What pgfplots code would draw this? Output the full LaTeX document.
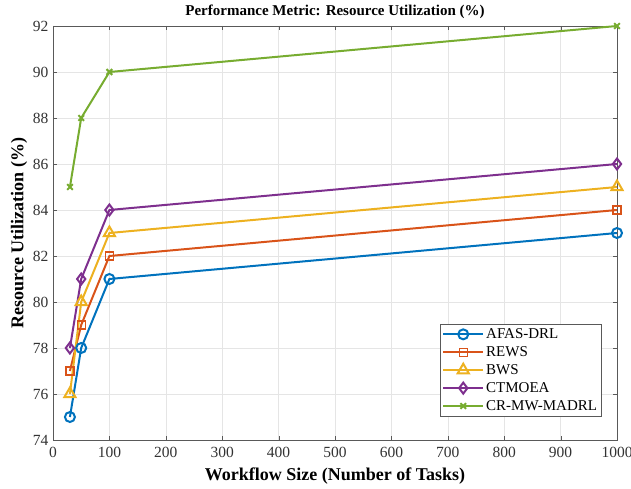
\documentclass[border=0pt]{standalone}
\usepackage{pgfplots}
\pgfplotsset{compat=1.18}
\usepackage{fontspec}
\setmainfont{Liberation Serif}
\definecolor{c1}{rgb}{0,0.447,0.741}
\definecolor{c2}{rgb}{0.85,0.325,0.098}
\definecolor{c3}{rgb}{0.929,0.694,0.125}
\definecolor{c4}{rgb}{0.494,0.184,0.556}
\definecolor{c5}{rgb}{0.466,0.674,0.188}
\begin{document}
\begin{tikzpicture}
\useasboundingbox (-53pt,-49pt) rectangle (578pt,440pt);
\begin{axis}[
  at={(0,0)}, anchor=south west,
  scale only axis, width=564pt, height=414pt,
  xmin=0, xmax=1000, ymin=74, ymax=92,
  xtick={0,100,...,1000}, ytick={74,76,...,92},
  grid=major, grid style={gray!20, line width=0.5pt},
  axis line style={gray!70!black, line width=0.6pt},
  tick style={gray!70!black},
  tick align=inside,
  /pgf/number format/assume math mode=true,
  /pgf/number format/1000 sep={},
  tick label style={font=\fontsize{15.5}{17}\selectfont, text=black!80},
  xticklabel style={anchor=base, yshift=-18pt},
  yticklabel style={xshift=-1pt},
  xlabel={\textbf{Workflow Size (Number of Tasks)}},
  ylabel={\textbf{Resource Utilization (\%)}},
  label style={font=\fontsize{18}{20}\selectfont},
  xlabel style={at={(axis description cs:0.5,0)}, anchor=base, yshift=-41pt},
  ylabel style={at={(axis description cs:0,0.5)}, anchor=center, yshift=34pt},
  title={\textbf{Performance Metric: Resource Utilization (\%)}},
  title style={font=\fontsize{15}{17}\selectfont, at={(axis description cs:0.5,1)}, anchor=base, yshift=4pt},
  legend style={at={(0.972,0.058)}, anchor=south east, font=\fontsize{15}{17}\selectfont, draw=gray!70!black, cells={anchor=west}, row sep=2.5pt, inner sep=2pt},
  legend cell align=left,
  legend image code/.code={\draw[mark repeat=2,mark phase=2] plot coordinates {(0cm,0cm) (0.7cm,0cm) (1.4cm,0cm)};},
  every axis plot/.append style={line width=2pt, mark size=5pt},
]
\addplot[c1, mark=o] coordinates {(30,75) (50,78) (100,81) (1000,83)};
\addlegendentry{AFAS-DRL}
\addplot[c2, mark=square, mark size=4pt, mark options={line width=1.3pt}] coordinates {(30,77) (50,79) (100,82) (1000,84)};
\addlegendentry{REWS}
\addplot[c3, mark=triangle, mark size=6.5pt] coordinates {(30,76) (50,80) (100,83) (1000,85)};
\addlegendentry{BWS}
\addplot[c4, mark=diamond, mark size=5.5pt] coordinates {(30,78) (50,81) (100,84) (1000,86)};
\addlegendentry{CTMOEA}
\addplot[c5, mark=x, mark size=4pt] coordinates {(30,85) (50,88) (100,90) (1000,92)};
\addlegendentry{CR-MW-MADRL}
\end{axis}
\end{tikzpicture}
\end{document}
